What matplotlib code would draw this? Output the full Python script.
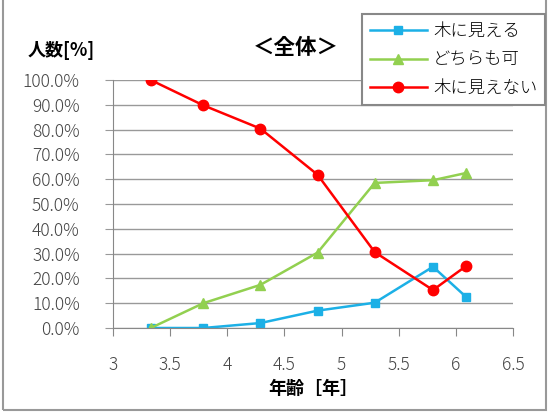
import matplotlib.pyplot as plt
from matplotlib.patches import Rectangle
from matplotlib.ticker import FuncFormatter

plt.rcParams['font.family'] = ['Noto Sans CJK JP', 'DejaVu Sans']

# 年齢と割合
age = [3.33, 3.79, 4.29, 4.79, 5.29, 5.80, 6.09]
mieru = [0.0, 0.0, 2.0, 7.0, 10.2, 24.7, 12.5]
dochira = [0.0, 10.0, 17.4, 30.4, 58.5, 59.6, 62.5]
mienai = [100.0, 89.8, 80.4, 61.8, 30.6, 15.3, 25.0]
labels = ['木に見える', 'どちらも可', '木に見えない']

fig = plt.figure(figsize=(5.49, 4.20), dpi=100)
ax = fig.add_axes([113 / 549, 1 - 328 / 420, 400 / 549, 248 / 420])

l1, = ax.plot(age, [v / 100 for v in mieru], color='#1cb0e6', lw=1.8,
              marker='s', ms=6, label=labels[0])
l2, = ax.plot(age, [v / 100 for v in dochira], color='#92d050', lw=1.8,
              marker='^', ms=7, label=labels[1])
l3, = ax.plot(age, [v / 100 for v in mienai], color='#ff0000', lw=1.8,
              marker='o', ms=7.5, label=labels[2])

ax.set_xlim(3, 6.5)
ax.set_ylim(0, 1)
ax.set_xticks([3, 3.5, 4, 4.5, 5, 5.5, 6, 6.5])
ax.set_xticklabels(['3', '3.5', '4', '4.5', '5', '5.5', '6', '6.5'])
ax.set_yticks([i / 10 for i in range(11)])
ax.yaxis.set_major_formatter(FuncFormatter(lambda v, p: f'{v * 100:.1f}%'))
ax.grid(axis='y', color='#999999', lw=1)
ax.set_axisbelow(True)
for s in ['top', 'right']:
    ax.spines[s].set_visible(False)
for s in ['left', 'bottom']:
    ax.spines[s].set_color('#888888')
ax.tick_params(axis='y', length=6, color='#999999', labelsize=12.5,
               labelcolor='#444444', pad=18)
ax.tick_params(axis='x', length=6, color='#888888', labelsize=12.5,
               labelcolor='#444444', pad=14)
for t in ax.get_xticklabels() + ax.get_yticklabels():
    t.set_fontweight('light')

ax.set_xlabel('年齢［年］', fontsize=13, fontweight='bold', labelpad=4)
fig.text(61 / 549, 1 - 50 / 420, '人数[%]', fontsize=13, fontweight='bold',
         ha='center', va='center')
fig.text(296 / 549, 1 - 48 / 420, '＜全体＞', fontsize=15.5,
         fontweight='bold', ha='center', va='center')

leg = fig.legend(handles=[l1, l2, l3], loc='upper right',
                 bbox_to_anchor=(545 / 549, 1 - 14 / 420), borderaxespad=0,
                 fancybox=False, edgecolor='#888888', framealpha=1,
                 fontsize=12.5, handlelength=3.3, labelspacing=0.62,
                 borderpad=0.45, handletextpad=0.35)
leg.get_frame().set_linewidth(1.5)
for t in leg.get_texts():
    t.set_fontweight('light')

fig.patches.append(Rectangle((3 / 549, 1 - 410 / 420), 543 / 549, 420 / 420,
                             transform=fig.transFigure, fill=False,
                             edgecolor='#999999', lw=1.5))

fig.savefig('out.png', dpi=100)
